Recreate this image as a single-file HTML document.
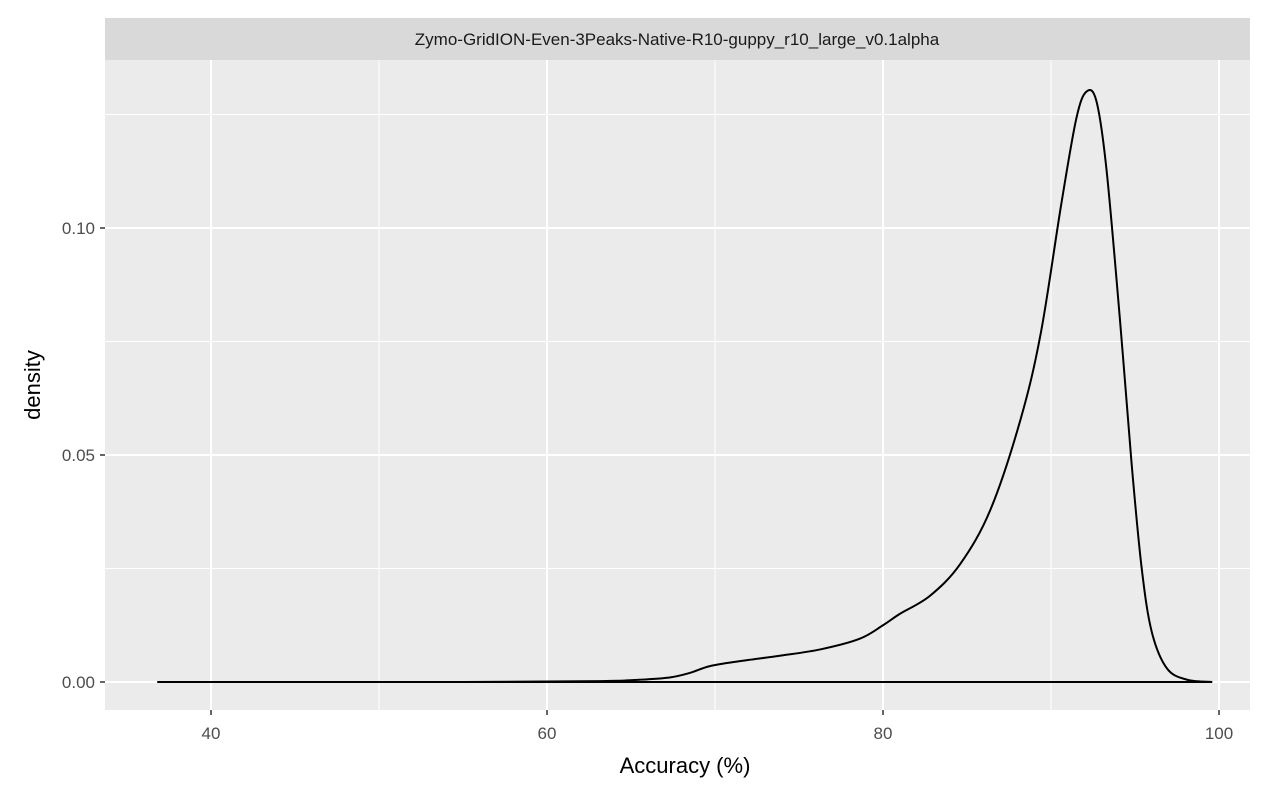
<!DOCTYPE html>
<html><head><meta charset="utf-8"><style>
body{margin:0;background:#fff}
text{font-family:"Liberation Sans",Arial,sans-serif}
</style></head><body>
<svg id="chart" width="1284" height="792" xmlns="http://www.w3.org/2000/svg">
<rect x="0" y="0" width="1284" height="792" fill="#fff"/>
<rect x="105" y="18" width="1145" height="42" fill="#d9d9d9"/>
<text x="677" y="45" text-anchor="middle" font-size="17" fill="#1a1a1a">Zymo-GridION-Even-3Peaks-Native-R10-guppy_r10_large_v0.1alpha</text>
<rect x="105" y="60" width="1145" height="650" fill="#ebebeb"/>
<g id="grid"></g>
<path id="curve" fill="none" stroke="#000" stroke-width="2"/>
<g id="axes"></g>
<text x="685" y="773" text-anchor="middle" font-size="22" fill="#000">Accuracy (%)</text>
<text transform="translate(40,385) rotate(-90)" text-anchor="middle" font-size="22" fill="#000">density</text>
</svg>
<script>
const accuracy=[36.8,55,63.2,65.5,67.3,68.5,69.7,71.5,73.9,76.3,78.6,80,81,82.8,84.6,86.4,88.2,89.4,90.6,91.5,92.1,92.7,93.3,94.1,94.8,95.4,96.0,96.9,98.1,99.6];
const density=[0,0,0.0002,0.0005,0.001,0.002,0.0035,0.0046,0.0058,0.0072,0.0095,0.0125,0.015,0.019,0.026,0.038,0.058,0.077,0.105,0.124,0.130,0.128,0.113,0.08,0.048,0.025,0.011,0.003,0.0005,0];
const xTicks=[40,60,80,100];
const xMinor=[50,70,90];
const yTicks=[0,0.05,0.10];
const yTickLabels=["0.00","0.05","0.10"];
const yMinor=[0.025,0.075,0.125];
const X=v=>211+(v-40)*16.8;
const Y=v=>682-v*4540;
const NS="http://www.w3.org/2000/svg";
const grid=document.getElementById('grid'),axes=document.getElementById('axes');
function line(p,x1,y1,x2,y2,c,w,name){const l=document.createElementNS(NS,'line');l.setAttribute('x1',x1);l.setAttribute('y1',y1);l.setAttribute('x2',x2);l.setAttribute('y2',y2);l.setAttribute('stroke',c);l.setAttribute('stroke-width',w);


p.appendChild(l);}
function txt(p,x,y,s,anchor,name){const t=document.createElementNS(NS,'text');t.setAttribute('x',x);t.setAttribute('y',y);t.setAttribute('text-anchor',anchor);t.setAttribute('font-size','17');t.setAttribute('fill','#4d4d4d');t.textContent=s;


p.appendChild(t);}
xMinor.forEach(v=>line(grid,X(v),60,X(v),710,'#fff',1,'x-minor-gridline'));
yMinor.forEach(v=>line(grid,105,Y(v),1250,Y(v),'#fff',1,'y-minor-gridline'));
xTicks.forEach(v=>{line(grid,X(v),60,X(v),710,'#fff',2,'x-major-gridline');line(axes,X(v),710,X(v),715,'#333',1.5,'x-tick');txt(axes,X(v),739,String(v),'middle','x-tick-label');});
yTicks.forEach((v,i)=>{line(grid,105,Y(v),1250,Y(v),'#fff',2,'y-major-gridline');line(axes,100,Y(v),105,Y(v),'#333',1.5,'y-tick');txt(axes,95,Y(v)+6,yTickLabels[i],'end','y-tick-label');});
const pts=accuracy.map((a,i)=>[X(a),Y(density[i])]);
let d=`M${pts[0][0]},${pts[0][1]}`;
for(let i=0;i<pts.length-1;i++){const p0=pts[Math.max(0,i-1)],p1=pts[i],p2=pts[i+1],p3=pts[Math.min(pts.length-1,i+2)];
d+=` C${p1[0]+(p2[0]-p0[0])/6},${p1[1]+(p2[1]-p0[1])/6} ${p2[0]-(p3[0]-p1[0])/6},${p2[1]-(p3[1]-p1[1])/6} ${p2[0]},${p2[1]}`;}
d+=` L${pts[0][0]},${pts[0][1]}`;
document.getElementById('curve').setAttribute('d',d);
</script>
</body></html>
